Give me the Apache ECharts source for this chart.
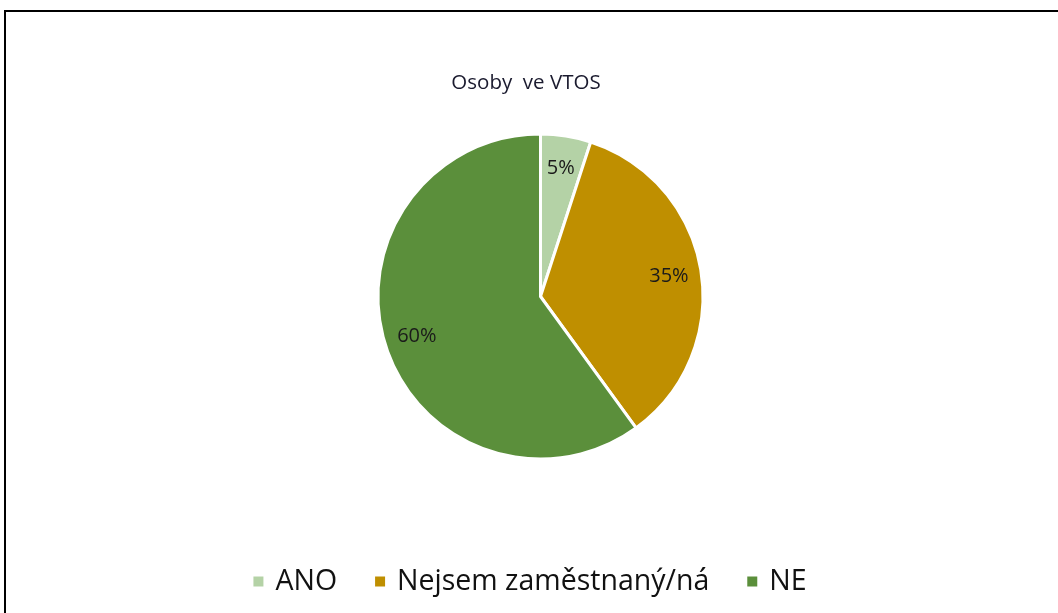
<!DOCTYPE html>
<html>
<head>
<meta charset="utf-8">
<script src="https://cdn.jsdelivr.net/npm/echarts@6/dist/echarts.min.js"></script>
<style>
html,body{margin:0;padding:0;background:#fff;}
#c{width:1058px;height:613px;}
</style>
</head>
<body>
<div id="c"></div>
<script>
const title = 'Osoby  ve VTOS';
const categories = ['ANO', 'Nejsem zaměstnaný/ná', 'NE'];
const values = [5, 35, 60];
const colors = ['#b4d2a6', '#bf8f00', '#5b8f3b'];

const font = '"Open Sans", Lato, sans-serif';
const data = categories.map((n, i) => ({ name: n, value: values[i], itemStyle: { color: colors[i] } }));
const chart = echarts.init(document.getElementById('c'));
chart.setOption({
  animation: false,
  title: {
    text: title, left: 521, top: 68, textAlign: 'center',
    textStyle: { fontFamily: font, fontSize: 20.5, fontWeight: 'normal', color: '#1a1a2e' }
  },
  graphic: [{
    type: 'rect', shape: { x: 5, y: 11, width: 1200, height: 800 },
    style: { fill: 'none', stroke: '#000', lineWidth: 2 }, silent: true, z: -1
  }],
  legend: {
    data: categories.map((n, i) => ({ name: n, itemStyle: { color: colors[i] } })),
    bottom: 12, left: 'center', icon: 'rect', itemWidth: 12, itemHeight: 12, itemGap: 36,
    textStyle: { fontFamily: font, fontSize: 28.5, color: '#111', padding: [0, 0, 0, 6] }
  },
  series: [{
    type: 'pie', center: [540.5, 296.5], radius: 162.5, startAngle: 90, clockwise: true,
    data: data, label: { show: false }, labelLine: { show: false },
    itemStyle: { borderColor: '#fff', borderWidth: 3 }, emphasis: { disabled: true }
  }, {
    type: 'pie', center: [540.5, 296.5], radius: [100, 154], startAngle: 90, clockwise: true,
    silent: true, legendHoverLink: false,
    data: categories.map((n, i) => ({ name: n, value: values[i], itemStyle: { color: 'transparent' } })),
    label: { show: true, position: 'inside', formatter: '{c}%', fontFamily: font, fontSize: 20, color: '#1a1a1a' },
    labelLine: { show: false }, emphasis: { disabled: true }
  }]
});
</script>
</body>
</html>
